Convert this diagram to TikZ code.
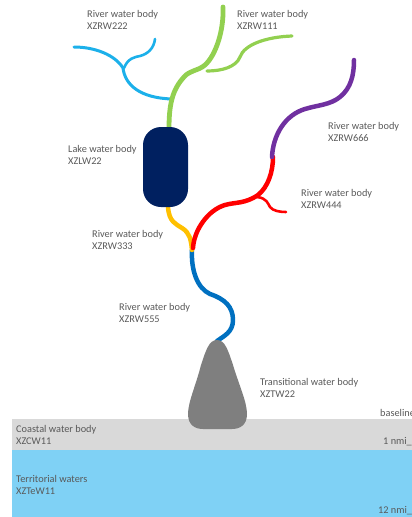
\documentclass[tikz,border=0pt]{standalone}
\usepackage{fontspec}
\setmainfont{Carlito}
\definecolor{lblgray}{HTML}{595959}
\definecolor{coastgray}{HTML}{D9D9D9}
\definecolor{terrblue}{HTML}{7FD1F5}
\definecolor{tranagray}{HTML}{7F7F7F}
\definecolor{lakenavy}{HTML}{002060}
\definecolor{rivgreen}{HTML}{92D050}
\definecolor{rivcyan}{HTML}{1CB0EA}
\definecolor{rivred}{HTML}{FF0000}
\definecolor{rivpurple}{HTML}{7030A0}
\definecolor{rivyellow}{HTML}{FFC000}
\definecolor{rivblue}{HTML}{0070C0}
\tikzset{
  x=1pt,y=-1pt,
  lbl/.style={anchor=west,inner sep=0pt,font=\fontsize{10.3}{12.4}\selectfont,text=lblgray,align=left},
  lblone/.style={anchor=west,inner sep=0pt,font=\fontsize{10.3}{12.4}\selectfont,text=lblgray},
  river/.style={line cap=round,line join=round,line width=#1},
  river/.default=3pt
}
\begin{document}
\begin{tikzpicture}
\useasboundingbox (0,0) rectangle (412,517);
\clip (0,0) rectangle (412,517);
% sea bands
\fill[coastgray] (12,419) rectangle (412,450);
\fill[terrblue] (12,450) rectangle (412,517);
% lower river
\draw[river=4.5pt,rivblue] (192,250) .. controls (191,270) and (197,288) .. (210,294) .. controls (225,299) and (233,307) .. (233,320) .. controls (233,332) and (224,336) .. (217,341);
% yellow
\draw[river=4.5pt,rivyellow] (168,207) .. controls (169,222) and (176,224) .. (182,228) .. controls (190,233) and (191,240) .. (192,250);
% red
\draw[river=4.5pt,rivred] (193,248) .. controls (194,230) and (208,210) .. (225,205) .. controls (235,202) and (245,204) .. (258,195) .. controls (268,187) and (273,172) .. (273,157);
\draw[river=2.6pt,rivred] (257,197) .. controls (267,198) and (268,204) .. (270,207) .. controls (273,211) and (280,212) .. (286,212);
% purple
\draw[river=4.5pt,rivpurple] (272,157) .. controls (273,135) and (285,115) .. (305,109) .. controls (318,105) and (330,105) .. (340,97) .. controls (351,88) and (354,75) .. (354,60);
% cyan
\draw[river=3pt,rivcyan] (74,47) .. controls (95,47) and (115,55) .. (123,68) .. controls (125,85) and (140,98) .. (172,99);
\draw[river=2.6pt,rivcyan] (124,68) .. controls (128,58) and (135,57) .. (140,56) .. controls (148,54) and (154,48) .. (155,39);
% green
\draw[river=3.2pt,rivgreen] (207,71) .. controls (222,71) and (236,67) .. (240,57) .. controls (244,45) and (265,37) .. (292,36);
\draw[river=4.8pt,rivgreen] (223,7) .. controls (224,30) and (216,55) .. (205,65) .. controls (198,71) and (190,70) .. (184,77) .. controls (172,90) and (169,105) .. (169,129);
% lake
\node[draw=none,fill=lakenavy,rounded corners=18pt,minimum width=45pt,minimum height=80pt,inner sep=0pt] (lake) at (165.5,167) {};
% transitional
\fill[tranagray] (217,340) .. controls (225,340) and (228,350) .. (233,365)
  .. controls (239,385) and (247,402) .. (247,414)
  .. controls (247,425) and (240,429) .. (232,429)
  -- (203,429) .. controls (195,429) and (188,425) .. (188,414)
  .. controls (188,402) and (196,385) .. (201,365)
  .. controls (206,350) and (209,340) .. (217,340) -- cycle;
% labels
\node[lbl] (r222) at (87,20) {River water body\\XZRW222};
\node[lbl] (r111) at (237,20) {River water body\\XZRW111};
\node[lbl] (lk) at (68,155) {Lake water body\\XZLW22};
\node[lbl] (r666) at (328,132) {River water body\\XZRW666};
\node[lbl] (r444) at (301,199) {River water body\\XZRW444};
\node[lbl] (r333) at (92,240) {River water body\\XZRW333};
\node[lbl] (r555) at (119,313) {River water body\\XZRW555};
\node[lbl] (tw) at (260,388) {Transitional water body\\XZTW22};
\node[lblone] (bl) at (380,413) {baseline};
\node[lbl] (cw) at (16,435) {Coastal water body\\XZCW11};
\node[lblone] (n1) at (383,442) {1 nmi\_};
\node[lbl] (tew) at (16,485) {Territorial waters\\XZTeW11};
\node[lblone] (n12) at (378,511) {12 nmi\_};
\end{tikzpicture}
\end{document}
